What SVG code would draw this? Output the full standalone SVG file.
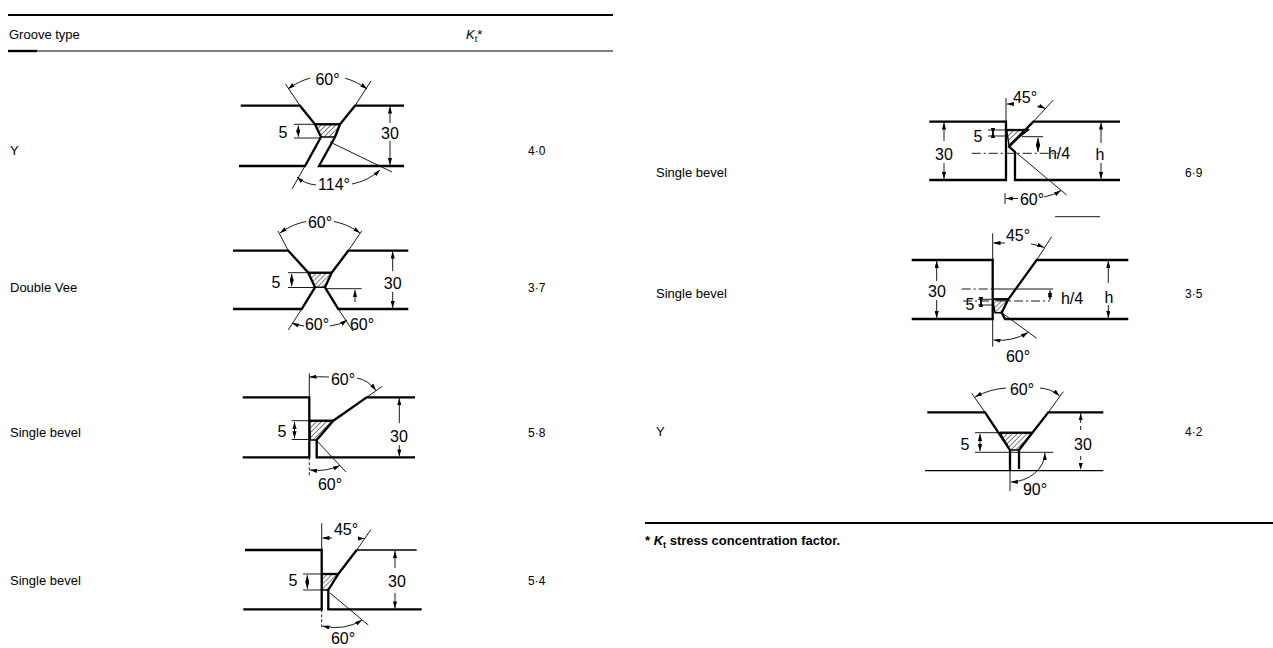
<svg xmlns="http://www.w3.org/2000/svg" width="1273" height="648" viewBox="0 0 1273 648">
<defs>
<style>
.pl{stroke:#000;stroke-width:2.3;fill:none;stroke-linejoin:miter}
.pt{stroke:#000;stroke-width:1.3;fill:none}
.th{stroke:#000;stroke-width:0.9;fill:none}
.dd{stroke:#000;stroke-width:0.9;fill:none;stroke-dasharray:9,3,2,3}
.dm{stroke:#000;stroke-width:0.9;fill:none;marker-end:url(#arr)}
.d2{stroke:#000;stroke-width:0.9;fill:none;marker-start:url(#arr);marker-end:url(#arr)}
.wd{fill:url(#hatch);stroke:#000;stroke-width:1.4}
.lb{font-family:"Liberation Sans",Arial,sans-serif;font-size:13px;fill:#000}
.kt{font-family:"Liberation Sans",Arial,sans-serif;font-size:12px;fill:#000}
.dt{font-family:"Liberation Sans",Arial,sans-serif;font-size:16px;fill:#000;text-anchor:middle}
.fn{font-family:"Liberation Sans",Arial,sans-serif;font-size:13px;font-weight:bold;fill:#000}
</style>
<marker id="arr" viewBox="0 0 10 6" refX="10" refY="3" markerWidth="7" markerHeight="4.2" markerUnits="userSpaceOnUse" orient="auto-start-reverse"><path d="M0,0 L10,3 L0,6 z" fill="#000"/></marker>
<pattern id="hatch" patternUnits="userSpaceOnUse" width="3.5" height="3.5" patternTransform="rotate(45)"><line x1="0" y1="0" x2="0" y2="3.5" stroke="#000" stroke-width="1"/></pattern>
</defs>
<rect width="1273" height="648" fill="#fff"/>

<g id="table-rules">
<path d="M8,15 H613" stroke="#000" stroke-width="2.2"/>
<path d="M8,51 H613" stroke="#000" stroke-width="1.2"/>
<path d="M8,51 H37" stroke="#000" stroke-width="2.4"/>
<path d="M645,523 H1273" stroke="#000" stroke-width="2.2"/>
<text class="lb" x="9" y="39">Groove type</text>
<text class="lb" x="466" y="39"><tspan font-style="italic">K</tspan><tspan font-size="9" dy="3">t</tspan><tspan dy="-3">*</tspan></text>
<text class="fn" x="645" y="545">* <tspan font-style="italic">K</tspan><tspan font-size="9" dy="3">t</tspan><tspan dy="-3"> stress concentration factor.</tspan></text>
</g>

<g id="row-labels">
<text class="lb" x="10" y="155">Y</text>
<text class="kt" x="528" y="155">4·0</text>
<text class="lb" x="10" y="292">Double Vee</text>
<text class="kt" x="528" y="292">3·7</text>
<text class="lb" x="10" y="437">Single bevel</text>
<text class="kt" x="528" y="437">5·8</text>
<text class="lb" x="10" y="585">Single bevel</text>
<text class="kt" x="528" y="585">5·4</text>
<text class="lb" x="656" y="177">Single bevel</text>
<text class="kt" x="1185" y="177">6·9</text>
<text class="lb" x="656" y="298">Single bevel</text>
<text class="kt" x="1185" y="298">3·5</text>
<text class="lb" x="656" y="436">Y</text>
<text class="kt" x="1185" y="436">4·2</text>
</g>

<!-- Diagram 1: Y groove 114 -->
<g id="diag-y-114">
<polygon class="wd" points="315,124.3 340,124.3 335,137 321,137"/>
<path class="pl" d="M240.7,105.7 H300 L315,124.3 L321,137 L305,166 H239"/>
<path class="pl" d="M404,105.7 H355 L340,124.3 L335,137 L319,166 H404"/>
<path class="pl" d="M315,124.3 H340"/>
<path class="th" d="M294,124.3 H315 M294,138 H321"/>
<path class="d2" d="M298.3,125.5 V136.8"/>
<text class="dt" x="283" y="138">5</text>
<path class="dm" d="M390,123 V106.5"/>
<path class="dm" d="M390,141 V165"/>
<text class="dt" x="390" y="139">30</text>
<path class="th" d="M300,105.7 L285.5,84 M355,105.7 L371,81"/>
<path class="dm" d="M310,78.2 A64,64 0 0 0 288,89"/>
<path class="dm" d="M345,78.2 A64,64 0 0 1 367,89"/>
<text class="dt" x="327.5" y="85">60°</text>
<path class="th" d="M305,166 L292,189 M330,142 L392,172"/>
<path class="dm" d="M316,185 Q305,184 297,177"/>
<path class="dm" d="M352,184 Q368,181 380,170"/>
<text class="dt" x="334" y="190">114°</text>
</g>

<!-- Diagram 2: Double Vee -->
<g id="diag-double-vee">
<polygon class="wd" points="308.3,272.7 331.7,272.7 325,287.3 315,287.3"/>
<path class="pl" d="M233,250.7 H288.3 L308.3,272.7 L315,287.3 L301.7,309 H233"/>
<path class="pl" d="M408.3,250.7 H348.3 L331.7,272.7 L325,287.3 L338.3,309 H408.3"/>
<path class="pl" d="M308.3,272.7 H331.7"/>
<path class="th" d="M288,272.7 H308.3 M288,287.5 H315 M326,288.7 H361.7"/>
<path class="d2" d="M291.7,273.9 V286.3"/>
<text class="dt" x="276" y="288">5</text>
<path class="dm" d="M355,302 V290"/>
<path class="dm" d="M392.7,271 V251.5"/>
<path class="dm" d="M392.7,292 V308"/>
<text class="dt" x="392.7" y="289">30</text>
<path class="th" d="M288.3,250.7 L278,231 M348.3,250.7 L361.7,231"/>
<path class="dm" d="M306,221.5 A65,65 0 0 0 280,233"/>
<path class="dm" d="M334,221.5 A65,65 0 0 1 360,233"/>
<text class="dt" x="320" y="228">60°</text>
<path class="th" d="M301.7,309 L288.3,330 M338.3,309 L353,331"/>
<path class="dm" d="M304,326 Q297,325 292,323"/>
<path class="dm" d="M330,326 Q340,325 347,320"/>
<text class="dt" x="317" y="330">60°</text>
<text class="dt" x="362" y="330">60°</text>
</g>

<!-- Diagram 3: Single bevel 5.8 -->
<g id="diag-single-bevel-58">
<polygon class="wd" points="309.3,420.7 333.3,420.7 316.7,440 310.5,440"/>
<path class="pl" d="M242.7,397.3 H309.3 V457.3 H242.7"/>
<path class="pl" d="M415,397.3 H366.7 L333.3,420.7 L316.7,440 V457.3 H415"/>
<path class="pl" d="M309.3,420.7 H333.3"/>
<path class="th" d="M291.7,420.7 H309.3 M291.7,439.5 H309.3"/>
<path class="d2" d="M294.5,421.9 V438.3"/>
<text class="dt" x="282" y="437">5</text>
<path class="dm" d="M399.3,423 V398.2"/>
<path class="dm" d="M399.3,445 V456.4"/>
<text class="dt" x="399" y="442">30</text>
<path class="th" d="M309.3,397.3 V373.3 M366.7,397.3 L382,386.5"/>
<path class="dm" d="M329,377 Q320,376.5 309.5,377"/>
<path class="dm" d="M357,378 Q368,380 376,390.5"/>
<text class="dt" x="343" y="385">60°</text>
<path class="th" d="M309.3,457.3 V476" stroke-dasharray="3,2"/>
<path class="th" d="M317,441 L346,472"/>
<path class="d2" d="M310,470 Q326,472 340,465.5"/>
<text class="dt" x="330" y="490">60°</text>
</g>

<!-- Diagram 4: Single bevel 5.4 -->
<g id="diag-single-bevel-54">
<polygon class="wd" points="321.7,574 338.3,574 328.3,590 321.7,590"/>
<path class="pl" d="M245,550 H321.7 V609.3 H243.3"/>
<path class="pt" d="M416.7,550 H356.7"/>
<path class="pl" d="M356.7,550 L338.3,574 L328.3,590 V609.3 H421.7"/>
<path class="pl" d="M321.7,574 H338.3"/>
<path class="th" d="M303,574 H321.7 M303,590 H321.7"/>
<path class="d2" d="M307.3,575.2 V588.8"/>
<text class="dt" x="293" y="586">5</text>
<path class="dm" d="M395,568 V551"/>
<path class="dm" d="M395,593 V608.4"/>
<text class="dt" x="397" y="587">30</text>
<path class="th" d="M321.7,550 V523.3 M356.7,550 L371,529.5"/>
<path class="dm" d="M332,538 H322.5"/>
<path class="dm" d="M358,538.5 Q361,538.5 364.5,538.5"/>
<text class="dt" x="346" y="535">45°</text>
<path class="th" d="M321.7,609.3 V628" stroke-dasharray="3,2"/>
<path class="th" d="M330,593 L368.3,625"/>
<path class="d2" d="M322.5,626 Q345,631 362,620"/>
<text class="dt" x="343" y="644">60°</text>
</g>

<!-- Diagram R1: Single bevel 6.9 -->
<g id="diag-single-bevel-69">
<polygon class="wd" points="1006.7,130 1028.3,130 1009,145.5"/>
<path class="pl" d="M929.3,121.7 H1006 V180 H929.3"/>
<path class="pl" d="M1120,121.7 H1033.3 L1009,146.7 L1015,152 V180 H1120"/>
<path class="pl" d="M1006,130 H1028.3"/>
<path class="dd" d="M971.7,153.3 H1058.3"/>
<path class="th" d="M988,130 H1006 M988,136 H1006 M1022,136.7 H1043"/>
<path class="d2" d="M993,131 V135"/>
<text class="dt" x="978" y="142">5</text>
<path class="d2" d="M1038,137.9 V152.1"/>
<text class="dt" x="1059" y="159">h/4</text>
<path class="dm" d="M944,141 V122.6"/>
<path class="dm" d="M944,163 V179"/>
<text class="dt" x="944" y="160">30</text>
<path class="dm" d="M1101,143 V122.6"/>
<path class="dm" d="M1101,163 V179"/>
<text class="dt" x="1100" y="160">h</text>
<path class="th" d="M1006,121.7 V98 M1033.3,121.7 L1053.3,100"/>
<path class="dm" d="M1013,104 H1006.8"/>
<path class="dm" d="M1037,106 Q1042,107 1045.5,108.5"/>
<text class="dt" x="1025" y="103">45°</text>
<path class="th" d="M1005,193 V204 M1013,150 L1066.7,195"/>
<path class="dm" d="M1018,198.5 H1005.8"/>
<path class="dm" d="M1044,197 Q1054,195 1061,190.5"/>
<text class="dt" x="1032" y="205">60°</text>
<path class="th" d="M1055,216.7 H1100"/>
</g>

<!-- Diagram R2: Single bevel 3.5 -->
<g id="diag-single-bevel-35">
<polygon class="wd" points="992.7,299.3 1008.3,299.3 1001.7,312.7 995,312.7"/>
<path class="pl" d="M911.7,260 H992.7 V319 H911.7"/>
<path class="pl" d="M1128.3,260 H1036.7 L1008.3,299.3 L1001.7,312.7 L1005,319 H1128.3"/>
<path class="pl" d="M992.7,299.3 H1008.3"/>
<path class="dd" d="M961.7,289 H992.7"/>
<path class="th" d="M992.7,289 H1053.3"/>
<path class="dd" d="M963,301 H1050"/>
<path class="d2" d="M1050,290.2 V299.8"/>
<text class="dt" x="1072" y="304">h/4</text>
<path class="th" d="M978,299.3 H992.7 M978,305 H992.7"/>
<path class="d2" d="M981,300.3 V304"/>
<text class="dt" x="970" y="310">5</text>
<path class="dm" d="M936.7,281 V260.9"/>
<path class="dm" d="M936.7,300 V318.1"/>
<text class="dt" x="937" y="297">30</text>
<path class="dm" d="M1108.3,283 V260.9"/>
<path class="dm" d="M1108.3,305 V318.1"/>
<text class="dt" x="1109" y="303">h</text>
<path class="th" d="M992.7,260 V233.3 M1036.7,260 L1051.7,236.7"/>
<path class="dm" d="M1005,243 H993.5"/>
<path class="dm" d="M1031,244 Q1038,245 1044,247.5"/>
<text class="dt" x="1018" y="241">45°</text>
<path class="th" d="M992.7,319 V346.7 M1001.7,312.7 L1036.7,338.3"/>
<path class="d2" d="M993.5,340 Q1012,342 1028,332.5"/>
<text class="dt" x="1018" y="362">60°</text>
</g>

<!-- Diagram R3: Y 4.2 -->
<g id="diag-y-42">
<polygon class="wd" points="1000,432.7 1031.7,432.7 1019,450 1010,450"/>
<path class="pl" d="M927.3,412.3 H985 L1010,450 V470.7"/>
<path class="pl" d="M1103.3,412.3 H1048.3 L1019,450 V469"/>
<path class="pl" d="M1000,432.7 H1031.7"/>
<path class="pt" d="M925,470.7 H1103.3"/>
<path class="th" d="M975,432.7 H1000 M975,452.3 H1053.3"/>
<path class="d2" d="M980,433.9 V451.1"/>
<text class="dt" x="965" y="450">5</text>
<path class="dm" d="M1080.7,430 V413.2" stroke-dasharray="4,3"/>
<path class="dm" d="M1080.7,456 V469.8" stroke-dasharray="4,3"/>
<text class="dt" x="1083" y="450">30</text>
<path class="th" d="M985,412.3 L971.7,393.3 M1048.3,412.3 L1063.3,391.7"/>
<path class="dm" d="M1006,388 Q990,389 975,397"/>
<path class="dm" d="M1040,388 Q1052,389 1059.5,396"/>
<text class="dt" x="1022" y="395">60°</text>
<path class="th" d="M1010,470.7 V491"/>
<path class="d2" d="M1010.8,482 A35,30 0 0 0 1045,453"/>
<text class="dt" x="1035" y="495">90°</text>
</g>
</svg>
